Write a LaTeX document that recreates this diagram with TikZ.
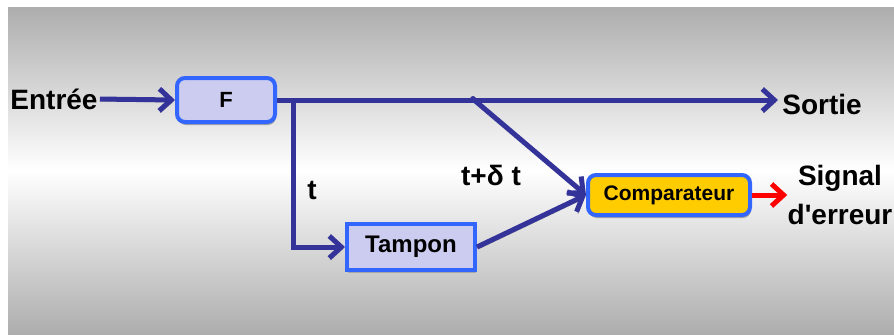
\documentclass[tikz,border=0pt]{standalone}
\usepackage{fontspec}
\setmainfont{Liberation Sans}
\usetikzlibrary{arrows.meta,shadows}

\definecolor{fleche}{HTML}{333399}
\definecolor{cadre}{HTML}{3366FF}
\definecolor{lavande}{HTML}{CCCCF0}
\definecolor{jaune}{HTML}{FFCC00}

\tikzset{
  fil/.style={color=fleche, line width=2.5pt,
    preaction={draw=gray!80, transform canvas={shift={(0.6pt,-1pt)}}}},
  pointe/.style={-{Straight Barb[length=6pt,width=11pt]}},
  boite/.style={draw=cadre, line width=2pt, fill=lavande,
    drop shadow={shadow xshift=0.5pt, shadow yshift=-1.5pt, fill=gray!70, opacity=1}},
  gros/.style={font=\bfseries\fontsize{14}{16}\selectfont, inner sep=0pt},
}

\begin{document}
\begin{tikzpicture}[x=0.5pt, y=-0.5pt]
    \useasboundingbox (0,0) rectangle (894,334);
    \shade [top color=gray!64, bottom color=gray!64, middle color=white]
    (8,7) rectangle (894,334);

    \node [gros] (entree) at (54,99) {Entrée};
    \node [boite, rounded corners=4pt, minimum width=49pt, minimum height=22pt,
    font=\bfseries\fontsize{11}{13}\selectfont] (filt) at (226,100) {F};
    \node [gros, anchor=west] (sortie) at (782,104) {Sortie};
    \node [boite, minimum width=64pt, minimum height=23pt,
    font=\bfseries\fontsize{12}{14}\selectfont] (tampon) at (411,247) {Tampon};
    \node [boite, fill=jaune, rounded corners=4pt, minimum width=81pt, minimum height=20pt,
    font=\bfseries\fontsize{10.5}{12}\selectfont] (comp) at (669,195) {Comparateur};
    \node [gros, align=center, font=\bfseries\fontsize{14}{19.5}\selectfont]
    (signal) at (840,195) {Signal\\d\textquotesingle erreur};
    \node [gros] (t) at (312,190) {t};
    \node [gros] (tdt) at (491,175) {t+δ t};

    \coordinate (deriv) at (293,99);
    \coordinate (jonc) at (473,99);

    \draw [fil, pointe, shorten <=1pt] (entree.east) -- (filt.west);
    \draw [fil, pointe, shorten >=2pt] (filt.east) -- (filt.east -| sortie.west);
    \draw [fil, pointe] (deriv) |- (tampon.west);
    \draw [fil, pointe] (jonc) -- (comp.west);
    \draw [fil, pointe] (tampon.east) -- (comp.west);
    \fill [fleche] (jonc) circle (3);
    \draw [red, line width=2.5pt, pointe] (comp.east) -- (signal.west);
\end{tikzpicture}
\end{document}
